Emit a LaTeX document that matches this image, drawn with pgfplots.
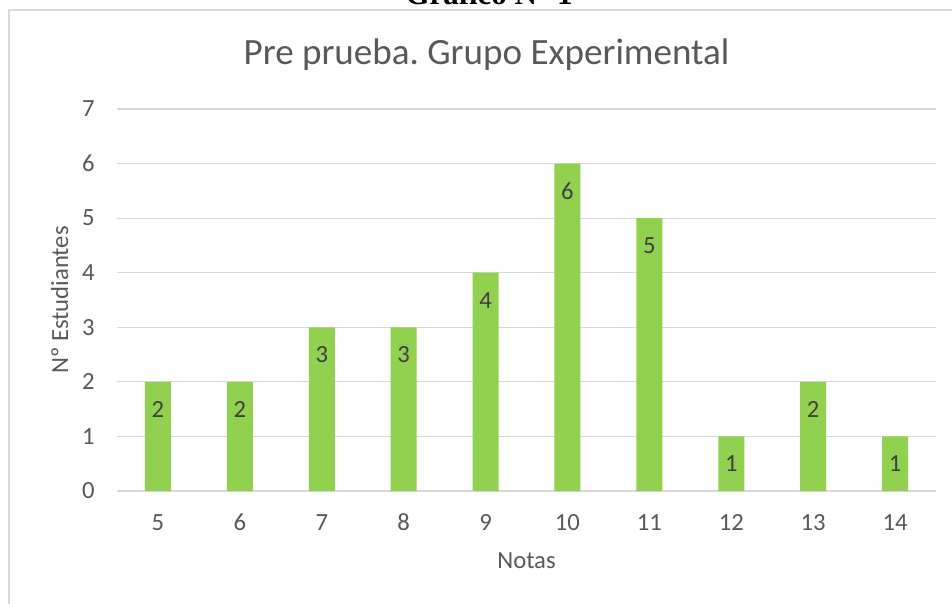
\documentclass[border=0pt]{standalone}
\usepackage{pgfplots}
\pgfplotsset{compat=1.18}
\usepackage{fontspec}
\setmainfont{Carlito}
\newfontfamily\timesfont{Liberation Serif}
\definecolor{barg}{HTML}{92D050}
\definecolor{gridc}{HTML}{D9D9D9}
\definecolor{tickc}{HTML}{595959}
\definecolor{labc}{HTML}{404040}
\frenchspacing
\pgfplotstableread{
nota n
5 2
6 2
7 3
8 3
9 4
10 6
11 5
12 1
13 2
14 1
}\datatable
\begin{document}
\begin{tikzpicture}
\path[use as bounding box] (0,0) rectangle (714pt,452.25pt);
\fill[white] (0,0) rectangle (714pt,452.25pt);
\draw[gridc, line width=1.5pt] (6.75pt,-5pt) -- (6.75pt,444.6pt) -- (720pt,444.6pt);
\node[anchor=base, inner sep=0pt, font=\timesfont\bfseries\fontsize{23.2}{26}\selectfont] at (366.75pt,448.5pt) {Gráfico N° 1};
\begin{axis}[
  at={(87.75pt,84pt)}, anchor=south west,
  scale only axis, width=614.25pt, height=286.5pt,
  xmin=4.5, xmax=14.5, ymin=0, ymax=7,
  axis line style={draw=none},
  axis x line*=bottom,
  ybar, bar width=19.5pt,
  xtick={5,...,14}, ytick={0,...,7},
  major tick length=0pt,
  ymajorgrids, grid style={gridc, line width=0.9pt},
  /pgf/number format/assume math mode=true,
  ticklabel style={font=\fontsize{18.5}{22}\selectfont, text=tickc},
  yticklabel style={anchor=east, inner sep=0pt, xshift=-16.5pt},
  xticklabel style={anchor=base, inner sep=0pt, yshift=-29.25pt},
  xlabel={Notas}, ylabel={Nº Estudiantes},
  label style={font=\fontsize{18.5}{22}\selectfont, text=tickc},
  xlabel style={at={(axis description cs:0.5,-0.2016)}, anchor=base, inner sep=0pt},
  ylabel style={at={(axis description cs:-0.0598,0.5)}, anchor=base, inner sep=0pt, rotate=0},
  nodes near coords,
  nodes near coords style={font=\fontsize{18.5}{22}\selectfont, text=labc, anchor=center, yshift=-20.6pt},
  clip=false,
]
\draw[gridc, line width=0.9pt] (axis cs:4.5,0) -- (axis cs:14.5,0);
\addplot[fill=barg, draw=none] table[x=nota, y=n] {\datatable};
\end{axis}
\node[anchor=base, inner sep=0pt, font=\fontsize{27.8}{32}\selectfont, text=tickc] at (364.9pt,403.5pt) {Pre prueba. Grupo Experimental};
\end{tikzpicture}
\end{document}
